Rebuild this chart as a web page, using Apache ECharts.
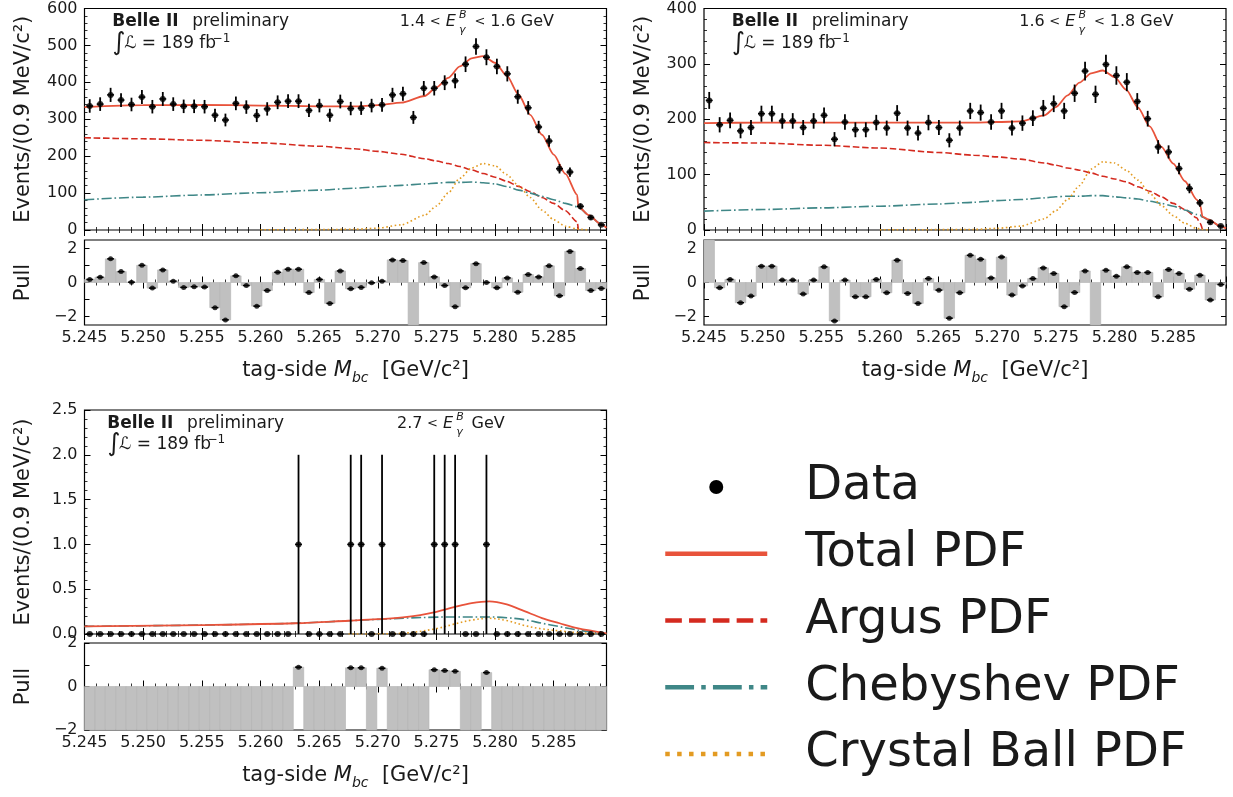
<!DOCTYPE html>
<html><head><meta charset="utf-8">
<script src="https://cdn.jsdelivr.net/npm/echarts@6/dist/echarts.min.js"></script>
<style>html,body{margin:0;padding:0;background:#fff}#c{width:1233px;height:797px}</style>
</head><body><div id="c"></div>
<script>
// ---------------- data ----------------
const MBC_MIN = 5.245, MBC_MAX = 5.2895, N_BINS = 50;
const xTickStep = 0.005;

// panel 1 : 1.4 < E < 1.6 GeV
const counts1 = [336,341,366,352,340,360,334,355,341,335,335,334,311,298,343,333,310,328,346,349,349,324,337,311,348,329,330,337,339,366,369,305,384,384,399,404,449,497,468,443,423,361,331,279,241,166,157,64,34,14];
const pull1 = [0.18,0.31,1.39,0.64,0.02,1.01,-0.33,0.74,0.08,-0.29,-0.25,-0.27,-1.48,-2.2,0.39,-0.18,-1.39,-0.47,0.6,0.78,0.78,-0.59,0.18,-1.23,0.68,-0.37,-0.29,-0.02,0.08,1.33,1.29,-2.8,1.17,0.33,-0.18,-1.42,-0.31,1.11,0.0,-0.31,0.27,-0.57,0.47,0.33,0.98,-0.78,1.83,0.82,-0.47,-0.35];
const fitX1 = [5.245,5.250,5.255,5.260,5.265,5.268,5.270,5.272,5.274,5.275,5.276,5.277,5.278,5.279,5.280,5.281,5.282,5.283,5.284,5.285,5.286,5.287,5.2871,5.288,5.289,5.2895];
const total1 = [333,338,339,337,335,335,338,345,363,386,412,443,465,471,453,418,367,312,258,204,152,95,63,40,16,6];
const argus1 = [250,247,243,236,227,220,213,205,193,187,180,172,163,153,143,132,118,104,88,72,52,22,0,null,null,null];
const cheb1  = [82,89,95,101,108,113,117,121,125,127,129,129,130,128,125,118,108,100,91,82,72,63,62,40,16,6];
const cb1    = [null,null,null,0.5,1,2,5,14,40,65,100,140,168,180,174,150,120,88,54,28,10,3,2,0,null,null];

// panel 2 : 1.6 < E < 1.8 GeV
const counts2 = [234,190,198,179,185,210,210,197,197,185,197,207,164,195,181,181,194,184,211,184,175,194,185,162,184,215,212,195,215,184,193,202,220,228,215,247,287,245,299,279,267,232,201,150,141,111,75,49,14,7];
const pull2 = [2.7,-0.31,0.18,-1.19,-0.8,0.96,0.96,0.14,0.14,-0.68,0.14,0.92,-2.26,0.14,-0.84,-0.84,0.18,-0.6,1.31,-0.64,-1.23,0.23,-0.45,-2.1,-0.6,1.6,1.37,0.27,1.5,-0.74,-0.2,0.23,0.86,0.53,-1.42,-0.59,0.68,-2.7,0.72,0.37,0.92,0.59,0.59,-0.84,0.76,0.53,-0.39,0.43,-1.03,-0.12];
const fitX2 = [5.245,5.250,5.255,5.260,5.265,5.268,5.270,5.272,5.274,5.275,5.276,5.277,5.278,5.279,5.280,5.281,5.282,5.283,5.284,5.285,5.286,5.287,5.2873,5.2875,5.288,5.289,5.2895];
const total2 = [193,194,194,194,194,194,195,196,207,222,243,266,283,288,276,253,221,187,150,120,88,55,45,24,19,7,3];
const argus2 = [158,157,153,148,140,135,132,128,121,117,112,108,103,97,92,87,78,70,60,48,37,22,12,0,null,null,null];
const cheb2  = [34,37,40,43,47,50,53,55,58,60,61,61,62,62,60,58,56,52,48,43,36,28,27,23,18,7,3];
const cb2    = [null,null,null,0.3,0.6,1,3,7,20,35,55,80,110,123,121,108,90,66,44,26,12,3,2,1,0,null,null];

// panel 3 : 2.7 < E GeV
const counts3 = [0,0,0,0,0,0,0,0,0,0,0,0,0,0,0,0,0,0,0,0,1,0,0,0,0,1,1,0,1,0,0,0,0,1,1,1,0,0,1,0,0,0,0,0,0,0,0,0,0,0];
const pull3 = [-3,-3,-3,-3,-3,-3,-3,-3,-3,-3,-3,-3,-3,-3,-3,-3,-3,-3,-3,-3,0.89,-3,-3,-3,-3,0.86,0.86,-3,0.84,-3,-3,-3,-3,0.77,0.73,0.70,-3,-3,0.64,-3,-3,-3,-3,-3,-3,-3,-3,-3,-3,-3];
const fitX3 = [5.245,5.255,5.263,5.2675,5.270,5.2725,5.275,5.2765,5.278,5.2795,5.281,5.2825,5.284,5.2855,5.287,5.2895];
const total3 = [0.085,0.10,0.12,0.148,0.165,0.19,0.248,0.30,0.345,0.364,0.33,0.255,0.178,0.12,0.065,0.008];
const cheb3  = [0.085,0.10,0.12,0.148,0.163,0.178,0.188,0.19,0.19,0.19,0.182,0.16,0.12,0.082,0.045,0];
const cb3    = [null,null,null,0,0.002,0.012,0.06,0.11,0.155,0.175,0.15,0.095,0.057,0.035,0.015,0];

const energyLo = ['1.4', '1.6', '2.7'];
const energyHi = ['1.6 GeV', '1.8 GeV', 'GeV'];
const legendNames = ['Data', 'Total PDF', 'Argus PDF', 'Chebyshev PDF', 'Crystal Ball PDF'];

// ---------------- style ----------------
const FONT = 'DejaVu Sans';
const LABEL = '#1a1a1a';
const C_TOTAL = '#e8533b', C_ARGUS = '#d42a1f', C_CHEB = '#3f8787', C_CB = '#e39b22', C_BAR = '#c0c0c0';

const binW = (MBC_MAX - MBC_MIN) / N_BINS;
const centers = Array.from({length: N_BINS}, (_, i) => MBC_MIN + (i + 0.5) * binW);

const panels = [
  {counts: counts1, pull: pull1, fitX: fitX1, total: total1, argus: argus1, cheb: cheb1, cb: cb1,
   yMax: 600, yInt: 100, yDec: 0, pMin: -2.5, pMax: 2.5,
   L: 84.5, T: 8.5, W: 522, H: 221.5, PT: 240, PH: 85, bx: 27.8, ex: 315.2, twoSided: true, sm: 0.25, mono: 'x'},
  {counts: counts2, pull: pull2, fitX: fitX2, total: total2, argus: argus2, cheb: cheb2, cb: cb2,
   yMax: 400, yInt: 100, yDec: 0, pMin: -2.5, pMax: 2.5,
   L: 704, T: 8.5, W: 522, H: 221.5, PT: 240, PH: 85, bx: 27.8, ex: 315.2, twoSided: true, sm: 0.25, mono: 'x'},
  {counts: counts3, pull: pull3, fitX: fitX3, total: total3, argus: null, cheb: cheb3, cb: cb3,
   yMax: 2.5, yInt: 0.5, yDec: 1, pMin: -2, pMax: 2,
   L: 84.5, T: 410, W: 522, H: 224, PT: 643, PH: 87, bx: 22.7, ex: 312.5, twoSided: false, sm: 0.35, mono: null}
];

const grids = [], xAxes = [], yAxes = [], series = [], graphics = [];
const tickBase = {show: true, inside: true, length: 6, lineStyle: {color: '#000', width: 1}};
const minorBase = {show: true, splitNumber: 5, length: 3, lineStyle: {color: '#000', width: 0.8}};
const labelBase = {fontFamily: FONT, fontSize: 16, color: LABEL};
const minusFmt = v => (v < 0 ? '\u2212' + Math.abs(v) : String(v));

function xAxisPair(g, withLabels) {
  const base = {type: 'value', gridIndex: g, min: MBC_MIN, max: MBC_MAX, interval: xTickStep,
    axisLine: {show: false}, splitLine: {show: false}, axisTick: tickBase, minorTick: minorBase};
  xAxes.push(Object.assign({}, base, {position: 'bottom',
    axisLabel: withLabels ? Object.assign({show: true, margin: 5, showMaxLabel: false, formatter: v => v.toFixed(3)}, labelBase) : {show: false},
    name: withLabels ? 'tag-side {i|M}{s|bc}  [GeV/c\u00b2]' : '', nameLocation: 'middle', nameGap: 32,
    nameTextStyle: {fontFamily: FONT, fontSize: 21, color: LABEL, padding: [0, 0, 0, 20],
      rich: {i: {fontFamily: FONT, fontSize: 21, fontStyle: 'italic', color: LABEL, lineHeight: 28},
             s: {fontFamily: FONT, fontSize: 14, fontStyle: 'italic', color: LABEL, lineHeight: 14, verticalAlign: 'bottom'}}}}));
  xAxes.push(Object.assign({}, base, {position: 'top', axisLabel: {show: false}}));
}
function yAxisPair(g, cfg) {
  const base = Object.assign({type: 'value', gridIndex: g, axisLine: {show: false}, splitLine: {show: false}}, cfg.range);
  yAxes.push(Object.assign({}, base, {position: 'left', axisTick: cfg.tick, minorTick: cfg.minor,
    axisLabel: Object.assign({show: true, margin: 7}, labelBase, cfg.label),
    name: cfg.name, nameLocation: 'middle', nameGap: 50, nameRotate: 90,
    nameTextStyle: {fontFamily: FONT, fontSize: 21, color: LABEL}}));
  yAxes.push(Object.assign({}, base, {position: 'right', axisTick: cfg.tick, minorTick: cfg.minor, axisLabel: {show: false}}));
}

function errItem(params, api) {
  const x = api.value(0), y = api.value(1), e = api.value(2);
  const cs = params.coordSys;
  const clampY = v => Math.max(cs.y, Math.min(cs.y + cs.height, v));
  const c = api.coord([x, y]);
  const hw = (api.coord([x + binW, y])[0] - c[0]) * 0.33;
  const kids = [];
  if (e > 0) {
    const t = api.coord([x, y + e]), b = api.coord([x, y - e]);
    kids.push({type: 'line', shape: {x1: c[0], y1: clampY(t[1]), x2: c[0], y2: clampY(b[1])}, style: {stroke: '#000', lineWidth: 1.8}});
  }
  if (c[1] >= cs.y - 0.5 && c[1] <= cs.y + cs.height + 0.5) {
    kids.push({type: 'line', shape: {x1: c[0] - hw, y1: c[1], x2: c[0] + hw, y2: c[1]}, style: {stroke: '#000', lineWidth: 1.5}});
  }
  return {type: 'group', children: kids};
}
function barItem(params, api) {
  const x = api.value(0), v = api.value(1);
  const a = api.coord([x - binW / 2, 0]), b = api.coord([x + binW / 2, v]);
  const cs = params.coordSys;
  const shape = echarts.graphic.clipRectByRect(
    {x: a[0], y: Math.min(a[1], b[1]), width: b[0] - a[0], height: Math.abs(b[1] - a[1])},
    {x: cs.x, y: cs.y, width: cs.width, height: cs.height});
  if (!shape) return null;
  return {type: 'rect', shape: shape, style: {fill: C_BAR, stroke: '#b2b2b2', lineWidth: 0.6}};
}

function txt(x, y, text, size, extra) {
  return {type: 'text', x: x, y: y, silent: true, z: 100,
    style: Object.assign({text: text, fontFamily: FONT, fontSize: size, fill: LABEL, verticalAlign: 'middle', align: 'left'}, extra || {})};
}

panels.forEach((P, p) => {
  const gm = 2 * p, gp = 2 * p + 1;
  grids.push({left: P.L, top: P.T, width: P.W, height: P.H, show: true, borderColor: '#000', borderWidth: 1.2, backgroundColor: 'transparent'});
  grids.push({left: P.L, top: P.PT, width: P.W, height: P.PH, show: true, borderColor: '#000', borderWidth: 1.2, backgroundColor: 'transparent'});
  xAxisPair(gm, false);
  xAxisPair(gp, true);
  yAxisPair(gm, {range: {min: 0, max: P.yMax, interval: P.yInt}, tick: tickBase, minor: minorBase,
    label: {formatter: v => v.toFixed(P.yDec)}, name: 'Events/(0.9 MeV/c\u00b2)'});
  yAxisPair(gp, {range: {min: P.pMin, max: P.pMax},
    tick: Object.assign({}, tickBase, {length: 5, customValues: [-2, -1, 0, 1, 2]}), minor: {show: false},
    label: {formatter: minusFmt, customValues: [-2, 0, 2]}, name: 'Pull'});

  const xm = 2 * gm, xp = 2 * gp;
  const curve = (name, ys, color, type, width, z) => ({
    type: 'line', name: name, xAxisIndex: xm, yAxisIndex: xm,
    data: P.fitX.map((x, i) => [x, ys[i]]).filter(d => d[1] !== null && d[1] !== undefined),
    symbol: 'none', showSymbol: false, smooth: P.sm, smoothMonotone: P.mono, clip: true, z: z, silent: true,
    lineStyle: {color: color, width: width, type: type}, itemStyle: {color: color}});
  if (P.argus) series.push(curve('Argus PDF', P.argus, C_ARGUS, [6.5, 2.8], 1.6, 3));
  series.push(curve('Chebyshev PDF', P.cheb, C_CHEB, [10, 2.8, 1.6, 2.8], 1.6, 3));
  series.push(curve('Crystal Ball PDF', P.cb, C_CB, [1.6, 2.6], 1.6, 3));
  series.push(curve('Total PDF', P.total, C_TOTAL, 'solid', 1.8, 4));

  series.push({type: 'custom', xAxisIndex: xm, yAxisIndex: xm, renderItem: errItem, silent: true, z: 5,
    data: P.counts.map((c, i) => [centers[i], c, Math.sqrt(c)])});
  series.push({type: 'scatter', name: 'Data', xAxisIndex: xm, yAxisIndex: xm, symbol: 'circle', symbolSize: 6, z: 6,
    itemStyle: {color: '#000'}, data: P.counts.map((c, i) => [centers[i], c])});

  series.push({type: 'custom', xAxisIndex: xp, yAxisIndex: xp, renderItem: barItem, silent: true, z: 2,
    data: P.pull.map((v, i) => [centers[i], v])});
  series.push({type: 'custom', xAxisIndex: xp, yAxisIndex: xp, renderItem: errItem, silent: true, z: 5,
    data: P.pull.map((v, i) => [centers[i], v, 0])});
  series.push({type: 'scatter', name: 'Pull', xAxisIndex: xp, yAxisIndex: xp, symbol: 'circle', symbolSize: 5, z: 6,
    itemStyle: {color: '#000'}, data: P.pull.map((v, i) => [centers[i], v])});

  const L = P.L, T = P.T;
  graphics.push(txt(L + P.bx, T + 13.4, 'Belle II', 17, {fontWeight: 'bold'}));
  graphics.push(txt(L + P.bx + 79.9, T + 13.4, 'preliminary', 17));
  graphics.push(txt(L + P.bx, T + 34.5, '\u222b', 25));
  graphics.push(txt(L + P.bx + 11.9, T + 35, '\u2112 = 189 fb', 17));
  graphics.push(txt(L + P.bx + 100.3, T + 30, '\u22121', 12));
  graphics.push(txt(L + P.ex, T + 13.4, energyLo[p], 16));
  graphics.push(txt(L + P.ex + 30, T + 13.6, '<', 13));
  graphics.push(txt(L + P.ex + 46, T + 13.4, 'E', 16, {fontStyle: 'italic'}));
  graphics.push(txt(L + P.ex + 59.3, T + 6.7, 'B', 11, {fontStyle: 'italic'}));
  graphics.push(txt(L + P.ex + 59.3, T + 22, '\u03b3', 11, {fontStyle: 'italic'}));
  if (P.twoSided) {
    graphics.push(txt(L + P.ex + 74.8, T + 13.6, '<', 13));
    graphics.push(txt(L + P.ex + 90.5, T + 13.4, energyHi[p], 16));
  } else {
    graphics.push(txt(L + P.ex + 74.5, T + 13.4, energyHi[p], 16));
  }
});

const hideSym = {opacity: 0};
const option = {
  animation: false,
  backgroundColor: '#ffffff',
  grid: grids, xAxis: xAxes, yAxis: yAxes, series: series, graphic: graphics,
  legend: {
    orient: 'vertical', left: 663, top: 459, padding: 0, itemGap: 10.75, itemWidth: 102, itemHeight: 20,
    selectedMode: false,
    textStyle: {fontFamily: FONT, fontSize: 48, color: LABEL, lineHeight: 56, padding: [0, 0, 0, 33]},
    data: [
      {name: legendNames[0], icon: 'path://M0 0M102 20M44 10a7 7 0 1 0 14 0a7 7 0 1 0 -14 0z', itemStyle: {color: '#000', opacity: 1}},
      {name: legendNames[1], itemStyle: hideSym, lineStyle: {width: 4.5, type: 'solid', color: C_TOTAL, opacity: 1}},
      {name: legendNames[2], itemStyle: hideSym, lineStyle: {width: 4.5, type: [16.6, 7.2], color: C_ARGUS, opacity: 1}},
      {name: legendNames[3], itemStyle: hideSym, lineStyle: {width: 4.5, type: [28.8, 7.2, 4.5, 7.2], color: C_CHEB, opacity: 1}},
      {name: legendNames[4], itemStyle: hideSym, lineStyle: {width: 4.5, type: [4.5, 7.4], color: C_CB, opacity: 1}}
    ]
  }
};
const chart = echarts.init(document.getElementById('c'), null, {renderer: 'canvas'});
chart.setOption(option);
</script>
</body></html>
